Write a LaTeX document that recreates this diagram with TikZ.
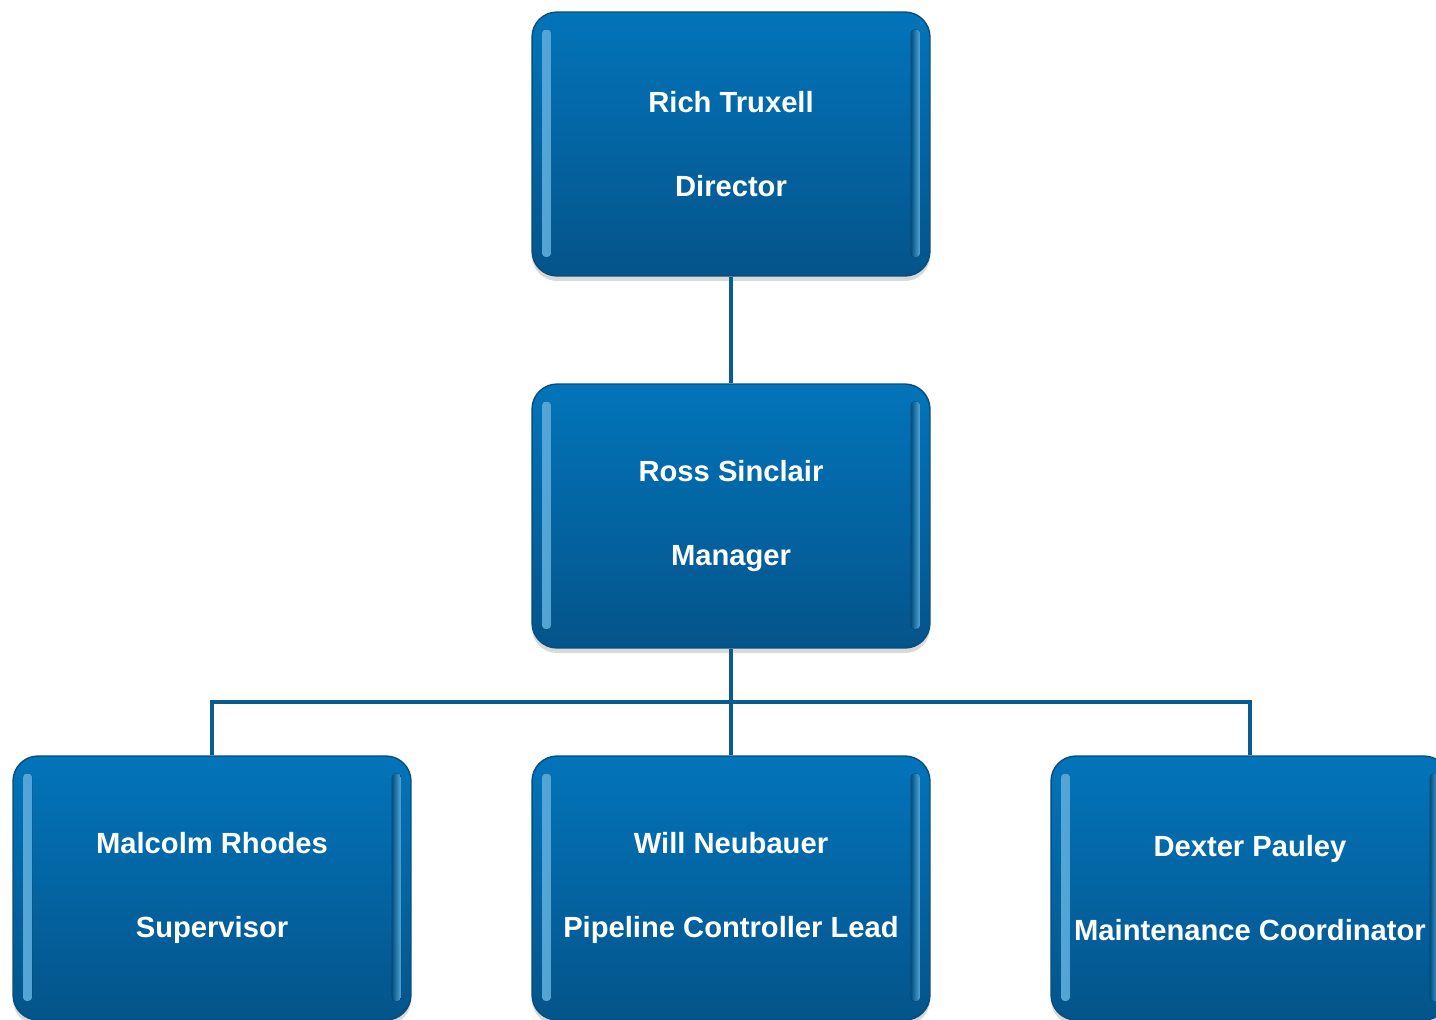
\documentclass[tikz,border=0pt]{standalone}
\usepackage{fontspec}
\setmainfont{Liberation Sans}
\usetikzlibrary{shadows}
\definecolor{boxtop}{RGB}{3,116,186}
\definecolor{boxbot}{RGB}{4,84,138}
\definecolor{boxedge}{RGB}{6,78,126}
\definecolor{linkblue}{RGB}{8,92,142}
\definecolor{hilite}{RGB}{100,195,250}

\tikzset{
  person/.style={rounded corners=0.5cm, minimum width=7.96cm, minimum height=5.28cm,
    top color=boxtop, bottom color=boxbot, draw=boxedge, line width=0.8pt,
    text=white, align=center, font=\fontsize{16.6}{48.2}\selectfont\bfseries,
    drop shadow={opacity=0.3, shadow xshift=0pt, shadow yshift=-0.1cm},
    path picture={
      \fill[left color=hilite, right color=boxtop!80!black, opacity=0.85, rounded corners=2pt]
        ([xshift=0.2cm,yshift=-0.35cm]path picture bounding box.north west)
        rectangle ([xshift=0.38cm,yshift=0.38cm]path picture bounding box.south west);
      \fill[right color=hilite, left color=boxtop!80!black, opacity=0.85, rounded corners=2pt]
        ([xshift=-0.38cm,yshift=-0.35cm]path picture bounding box.north east)
        rectangle ([xshift=-0.2cm,yshift=0.38cm]path picture bounding box.south east);
    }},
  link/.style={draw=linkblue, line width=0.09cm}
}

\begin{document}
\begin{tikzpicture}[x=0.02cm, y=-0.02cm]
  \useasboundingbox (0,0) rectangle (1436,1019);
  \clip (0,0) rectangle (1436,1019);
  % boxes
  \node[person] (dir) at (731,144) {Rich Truxell\\Director};
  \node[person] (mgr) at (731,516) {Ross Sinclair\\Manager};
  \node[person] (sup) at (212,888) {Malcolm Rhodes\\Supervisor};
  \node[person] (lead) at (731,888) {Will Neubauer\\Pipeline Controller Lead};
  \node[person] (coord) at (1250,888) {Dexter Pauley\\Maintenance Coordinator};
  % links
  \coordinate (bus) at (731,702);
  \draw[link] (dir) -- (mgr);
  \draw[link] (mgr) -- (lead);
  \draw[link] (bus) -| (sup);
  \draw[link] (bus) -| (coord);
\end{tikzpicture}
\end{document}
